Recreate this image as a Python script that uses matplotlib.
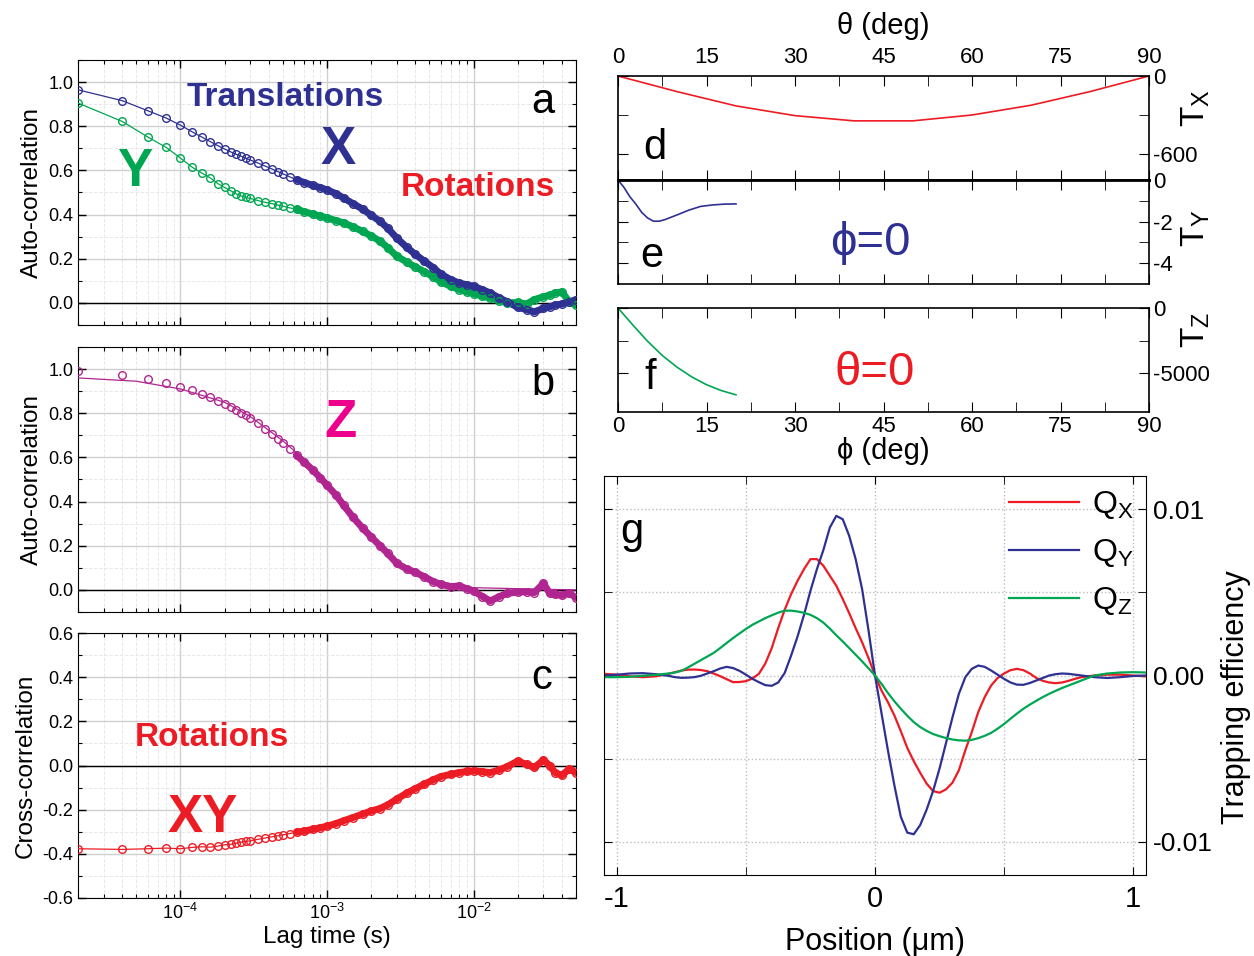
import numpy as np
import matplotlib
matplotlib.use('Agg')
import matplotlib.pyplot as plt
from matplotlib.ticker import FixedLocator, LogLocator, NullFormatter, FixedFormatter

plt.rcParams['font.family'] = ['Liberation Sans', 'DejaVu Sans']
plt.rcParams['mathtext.fontset'] = 'custom'
plt.rcParams['mathtext.rm'] = 'Liberation Sans'
plt.rcParams['axes.unicode_minus'] = False

NAVY = '#2E3192'
GREEN = '#00A651'
RED = '#ED1C24'
PURPLE = '#B0258F'
MAGENTA = '#EC008C'

# ---- panels a-c: correlation vs lag time ----
lag = [2e-5, 4e-5, 6e-5, 8e-5, 1.0e-4, 1.2e-4, 1.4e-4, 1.6e-4, 1.8e-4, 2.0e-4,
       2.2e-4, 2.4e-4, 2.6e-4, 2.8e-4, 3.0e-4, 3.4e-4, 3.8e-4, 4.2e-4, 4.6e-4, 5.0e-4,
       5.6e-4, 6.2e-4, 7.0e-4, 8.0e-4, 9.0e-4, 1.0e-3, 1.15e-3, 1.3e-3, 1.5e-3, 1.75e-3,
       2.0e-3, 2.3e-3, 2.6e-3, 3.0e-3, 3.5e-3, 4.0e-3, 4.6e-3, 5.3e-3, 6.0e-3, 7.0e-3,
       8.0e-3, 9.0e-3, 1.0e-2, 1.15e-2, 1.3e-2, 1.5e-2, 1.7e-2, 2.0e-2, 2.3e-2, 2.6e-2,
       3.0e-2, 3.3e-2, 3.6e-2, 4.0e-2, 4.5e-2, 5.0e-2]

acf_x = [0.965, 0.916, 0.870, 0.837, 0.805, 0.775, 0.751, 0.730, 0.712, 0.697,
         0.684, 0.673, 0.664, 0.655, 0.647, 0.633, 0.619, 0.607, 0.595, 0.585,
         0.570, 0.558, 0.545, 0.532, 0.522, 0.512, 0.495, 0.475, 0.450, 0.425,
         0.397, 0.370, 0.338, 0.293, 0.252, 0.220, 0.190, 0.160, 0.130, 0.105,
         0.090, 0.082, 0.075, 0.060, 0.045, 0.022, 0.005, -0.020, -0.030, -0.040,
         -0.025, -0.018, -0.010, -0.005, 0.005, 0.015]

acf_y = [0.905, 0.822, 0.751, 0.704, 0.656, 0.615, 0.588, 0.566, 0.540, 0.523,
         0.508, 0.494, 0.484, 0.478, 0.473, 0.463, 0.455, 0.450, 0.443, 0.438,
         0.430, 0.424, 0.413, 0.402, 0.393, 0.385, 0.373, 0.362, 0.345, 0.324,
         0.303, 0.280, 0.250, 0.211, 0.185, 0.163, 0.142, 0.118, 0.095, 0.075,
         0.060, 0.050, 0.042, 0.030, 0.022, 0.010, 0.000, 0.002, -0.005, 0.015,
         0.028, 0.035, 0.045, 0.050, 0.005, -0.010]

acf_z = [0.992, 0.973, 0.955, 0.937, 0.920, 0.905, 0.886, 0.875, 0.857, 0.842,
         0.828, 0.815, 0.802, 0.790, 0.780, 0.758, 0.730, 0.705, 0.685, 0.665,
         0.637, 0.610, 0.578, 0.543, 0.508, 0.474, 0.430, 0.383, 0.330, 0.280,
         0.240, 0.200, 0.165, 0.120, 0.095, 0.080, 0.060, 0.038, 0.025, 0.015,
         0.018, 0.005, -0.005, -0.030, -0.050, -0.030, -0.015, -0.010, -0.008, -0.012,
         0.030, -0.015, -0.020, -0.025, -0.015, -0.035]

fit_lag_z = [2e-5, 5e-5, 1e-4, 2e-4, 3e-4, 5e-4, 7e-4, 1e-3, 1.5e-3, 2e-3, 3e-3, 5e-3, 1e-2, 5e-2]
fit_z = [0.960, 0.945, 0.910, 0.850, 0.785, 0.675, 0.590, 0.478, 0.335, 0.235, 0.125, 0.045, 0.010, 0.0]

ccf_xy = [-0.377, -0.380, -0.377, -0.374, -0.377, -0.371, -0.368, -0.370, -0.365, -0.359,
          -0.357, -0.352, -0.347, -0.344, -0.341, -0.334, -0.328, -0.323, -0.318, -0.314,
          -0.308, -0.302, -0.297, -0.289, -0.282, -0.275, -0.263, -0.250, -0.236, -0.220,
          -0.206, -0.195, -0.178, -0.152, -0.125, -0.105, -0.085, -0.065, -0.050, -0.040,
          -0.032, -0.027, -0.024, -0.028, -0.032, -0.020, -0.005, 0.020, 0.005, -0.009,
          0.025, 0.000, -0.032, -0.045, -0.015, -0.032]

# ---- panels d-f: torques ----
theta_d = [0, 10, 20, 30, 40, 50, 60, 70, 80, 90]
torque_x = [0, -120, -230, -305, -345, -345, -300, -225, -120, 0]
phi_e = [0, 1, 2, 3, 4, 5, 6, 7, 8, 10, 12, 14, 16, 18, 20]
torque_y = [0, -0.35, -0.8, -1.15, -1.55, -1.82, -1.98, -1.98, -1.9, -1.68, -1.45, -1.27, -1.2, -1.16, -1.15]
phi_f = [0, 2.5, 5, 7.5, 10, 12.5, 15, 17.5, 20]
torque_z = [0, -1300, -2550, -3650, -4550, -5300, -5900, -6350, -6680]

# ---- panel g: trapping efficiency (units of 1e-3) ----
position = [-1.05, -1.0, -0.95, -0.9, -0.85,
            -0.8, -0.775, -0.75, -0.725, -0.7, -0.675, -0.65, -0.625, -0.6, -0.575,
            -0.55, -0.525, -0.5, -0.475, -0.45, -0.425, -0.4, -0.375, -0.35, -0.325,
            -0.3, -0.275, -0.25, -0.225, -0.2, -0.175, -0.15, -0.125, -0.1, -0.075,
            -0.05, -0.025, 0.0,
            0.025, 0.05, 0.075, 0.1, 0.125, 0.15, 0.175, 0.2, 0.225, 0.25,
            0.275, 0.3, 0.325, 0.35, 0.375, 0.4, 0.425, 0.45, 0.475, 0.5,
            0.525, 0.55, 0.575, 0.6, 0.625, 0.65, 0.675, 0.7, 0.725, 0.75,
            0.775, 0.8,
            0.85, 0.9, 0.95, 1.0, 1.05]
q_x = [0.1, 0.05, -0.05, -0.1, -0.05,
       0.1, 0.2, 0.3, 0.35, 0.36, 0.33, 0.26, 0.12, -0.04, -0.22,
       -0.4, -0.39, -0.34, -0.18, 0.1, 0.72, 1.65, 2.85, 3.95, 4.9,
       5.7, 6.4, 7.0, 7.0, 6.6, 6.0, 5.4, 4.6, 3.75, 2.85,
       2.0, 1.05, 0.0,
       -0.9, -1.6, -2.4, -3.35, -4.35, -5.15, -5.85, -6.5, -6.95, -7.05,
       -6.85, -6.45, -5.7, -4.5, -3.4, -2.2, -1.3, -0.6, -0.15, 0.12,
       0.32, 0.4, 0.32, 0.12, -0.15, -0.32, -0.42, -0.46, -0.42, -0.32,
       -0.2, -0.1,
       0.0, 0.05, 0.05, 0.0, -0.05]
q_y = [0.0, 0.05, 0.12, 0.14, 0.08,
       -0.02, -0.1, -0.14, -0.13, -0.1, -0.02, 0.12, 0.26, 0.42, 0.52,
       0.45, 0.28, 0.05, -0.2, -0.4, -0.58, -0.62, -0.42, 0.15, 1.2,
       2.35, 3.65, 5.1, 6.4, 7.55, 8.9, 9.6, 9.4, 8.4, 7.0,
       5.2, 2.7, 0.0,
       -2.25, -4.5, -6.6, -8.5, -9.45, -9.55, -9.0, -8.07, -6.95, -5.6,
       -4.07, -2.53, -1.1, -0.1, 0.4, 0.6, 0.52, 0.3, 0.05, -0.2,
       -0.42, -0.55, -0.56, -0.45, -0.3, -0.15, 0.0, 0.08, 0.12, 0.1,
       0.05, 0.0,
       -0.1, -0.15, -0.1, -0.03, 0.0]
q_z = [-0.1, -0.1, -0.08, -0.02, 0.04,
       0.12, 0.18, 0.28, 0.48, 0.7, 0.92, 1.14, 1.36, 1.65, 1.95,
       2.25, 2.53, 2.8, 3.05, 3.25, 3.45, 3.62, 3.78, 3.9, 3.9,
       3.85, 3.77, 3.65, 3.45, 3.18, 2.82, 2.42, 2.05, 1.65, 1.25,
       0.85, 0.43, 0.0,
       -0.5, -1.05, -1.55, -2.0, -2.42, -2.8, -3.1, -3.33, -3.52, -3.65,
       -3.76, -3.85, -3.9, -3.92, -3.87, -3.77, -3.63, -3.45, -3.2, -2.92,
       -2.6, -2.29, -2.0, -1.75, -1.52, -1.3, -1.1, -0.92, -0.75, -0.6,
       -0.45, -0.3,
       0.0, 0.12, 0.18, 0.2, 0.18]

W, H = 1254, 956


def px_rect(x0, y0, x1, y1):
    return [x0 / W, 1 - y1 / H, (x1 - x0) / W, (y1 - y0) / H]


fig = plt.figure(figsize=(W / 100, H / 100), dpi=100)


def ftext(x, y, s, **kw):
    kw.setdefault('ha', 'center')
    kw.setdefault('va', 'center')
    fig.text(x / W, 1 - y / H, s, **kw)


def corr_axes(rect, ylim, yticks, ylabel):
    ax = fig.add_axes(rect)
    ax.set_xscale('log')
    ax.set_xlim(2e-5, 5e-2)
    ax.set_ylim(*ylim)
    ax.yaxis.set_major_locator(FixedLocator(yticks))
    ax.yaxis.set_major_formatter(FixedFormatter(['%.1f' % v for v in yticks]))
    ax.yaxis.set_minor_locator(FixedLocator(np.round(np.arange(ylim[0], ylim[1] + 0.01, 0.1), 2)))
    ax.xaxis.set_major_locator(LogLocator(base=10, numticks=10))
    ax.xaxis.set_minor_locator(LogLocator(base=10, subs=np.arange(2, 10), numticks=20))
    ax.xaxis.set_minor_formatter(NullFormatter())
    ax.grid(True, which='major', color='#d0d0d0', lw=1)
    ax.grid(True, which='minor', color='#e8e8e8', lw=0.7, ls='--')
    ax.tick_params(which='both', direction='in', top=True, right=True, labelsize=13)
    ax.tick_params(which='major', length=6, width=1)
    ax.tick_params(which='minor', length=3, width=0.8)
    ax.axhline(0, color='black', lw=1, zorder=1.5)
    ax.set_ylabel(ylabel, fontsize=17.5, labelpad=4)
    ax.set_axisbelow(True)
    return ax


def draw_series(ax, values, color, fit=True):
    t = np.array(lag)
    v = np.array(values)
    if fit:
        ax.plot(t, v, '-', color=color, lw=0.9, zorder=3)
    dense = t >= 6e-4
    ax.plot(t[dense], v[dense], '-', color=color, lw=5, zorder=3, solid_capstyle='round')
    ax.plot(t, v, 'o', mfc='none', mec=color, ms=5.5, mew=1, zorder=4)


acf_ticks = [0.0, 0.2, 0.4, 0.6, 0.8, 1.0]
ax_a = corr_axes(px_rect(78, 60, 576, 325), (-0.1, 1.1), acf_ticks, 'Auto-correlation')
draw_series(ax_a, acf_y, GREEN)
draw_series(ax_a, acf_x, NAVY)
ax_a.tick_params(labelbottom=False)

ax_b = corr_axes(px_rect(78, 347, 576, 612), (-0.1, 1.1), acf_ticks, 'Auto-correlation')
ax_b.plot(fit_lag_z, fit_z, '-', color=PURPLE, lw=0.9, zorder=3)
draw_series(ax_b, acf_z, PURPLE, fit=False)
ax_b.tick_params(labelbottom=False)

ax_c = corr_axes(px_rect(78, 633, 576, 898), (-0.6, 0.6),
                 [-0.6, -0.4, -0.2, 0.0, 0.2, 0.4, 0.6], 'Cross-correlation')
draw_series(ax_c, ccf_xy, RED)
ax_c.set_xlabel('Lag time (s)', fontsize=17.5, labelpad=2)
ax_c.tick_params(axis='x', labelsize=13)

bold = dict(fontweight='bold')
ftext(285, 98, 'Translations', color=NAVY, fontsize=24, **bold)
ftext(338, 150, 'X', color=NAVY, fontsize=38, **bold)
ftext(135, 172, 'Y', color=GREEN, fontsize=38, **bold)
ftext(478, 187, 'Rotations', color=RED, fontsize=24, **bold)
ftext(340, 423, 'Z', color=MAGENTA, fontsize=38, **bold)
ftext(212, 737, 'Rotations', color=RED, fontsize=24, **bold)
ftext(203, 818, 'XY', color=RED, fontsize=38, **bold)
ftext(543, 102, 'a', fontsize=30)
ftext(543, 384, 'b', fontsize=30)
ftext(542, 678, 'c', fontsize=30)


# ---- panels d-f ----
def torque_axes(rect, ylim, major, labels, minor):
    ax = fig.add_axes(rect)
    ax.set_xlim(0, 90)
    ax.set_ylim(*ylim)
    ax.xaxis.set_major_locator(FixedLocator([0, 15, 30, 45, 60, 75, 90]))
    ax.xaxis.set_minor_locator(FixedLocator([7.5, 22.5, 37.5, 52.5, 67.5, 82.5]))
    ax.yaxis.set_major_locator(FixedLocator(major))
    ax.yaxis.set_major_formatter(FixedFormatter(labels))
    ax.yaxis.set_minor_locator(FixedLocator(minor))
    ax.tick_params(which='both', direction='in', top=True, bottom=True, left=True, right=True,
                   labelleft=False, labelright=True, labelbottom=False, labelsize=16, pad=3)
    ax.tick_params(which='both', length=7)
    for s in ax.spines.values():
        s.set_linewidth(1.2)
    return ax


ax_d = torque_axes(px_rect(618, 76, 1149, 180), (-800, 0), [0, -600], ['0', '-600'], [-300])
ax_d.plot(theta_d, torque_x, color=RED, lw=1.2)
ax_d.tick_params(axis='x', labeltop=True, pad=6)
ax_d.xaxis.set_label_position('top')
ax_d.set_xlabel('θ (deg)', fontsize=21, labelpad=9)
ax_d.spines['bottom'].set_linewidth(2)

ax_e = torque_axes(px_rect(618, 180, 1149, 284), (-5, 0), [0, -2, -4], ['0', '-2', '-4'], [-1, -3])
ax_e.plot(phi_e, torque_y, color=NAVY, lw=1.2)
ax_e.spines['top'].set_linewidth(2)

ax_f = torque_axes(px_rect(618, 308, 1149, 412), (-8000, 0), [0, -5000], ['0', '-5000'], [-2500])
ax_f.plot(phi_f, torque_z, color=GREEN, lw=1.2)
ax_f.tick_params(labelbottom=True)
ax_f.set_xlabel('ϕ (deg)', fontsize=21, labelpad=0)

ftext(655, 148, 'd', fontsize=30)
ftext(652, 256, 'e', fontsize=30)
ftext(650, 378, 'f', fontsize=30)
ftext(870, 243, 'ϕ=0', color=NAVY, fontsize=34)
ftext(875, 373, 'θ=0', color=RED, fontsize=34)
ftext(1196, 108, r'T$_\mathrm{X}$', fontsize=24, rotation=90)
ftext(1196, 228, r'T$_\mathrm{Y}$', fontsize=24, rotation=90)
ftext(1196, 330, r'T$_\mathrm{Z}$', fontsize=24, rotation=90)

# ---- panel g ----
ax_g = fig.add_axes(px_rect(604, 476, 1146, 875))
pos = np.array(position)
ax_g.plot(pos, np.array(q_x) * 1e-3, color=RED, lw=1.6, label=r'Q$_\mathrm{X}$')
ax_g.plot(pos, np.array(q_y) * 1e-3, color=NAVY, lw=1.6, label=r'Q$_\mathrm{Y}$')
ax_g.plot(pos, np.array(q_z) * 1e-3, color=GREEN, lw=1.6, label=r'Q$_\mathrm{Z}$')
ax_g.set_xlim(-1.05, 1.05)
ax_g.set_ylim(-0.012, 0.012)
ax_g.xaxis.set_major_locator(FixedLocator([-1, 0, 1]))
ax_g.xaxis.set_major_formatter(FixedFormatter(['-1', '0', '1']))
ax_g.xaxis.set_minor_locator(FixedLocator([-0.5, 0.5]))
ax_g.yaxis.set_major_locator(FixedLocator([-0.01, 0.0, 0.01]))
ax_g.yaxis.set_major_formatter(FixedFormatter(['-0.01', '0.00', '0.01']))
ax_g.yaxis.set_minor_locator(FixedLocator([-0.005, 0.005]))
ax_g.grid(True, which='both', color='#bdbdbd', ls=':', lw=1)
ax_g.tick_params(which='both', direction='in', top=True, right=True, length=6,
                 labelleft=False, labelright=True)
ax_g.tick_params(axis='y', labelsize=19, pad=5)
ax_g.tick_params(axis='x', labelsize=21, pad=7)
ax_g.set_xlabel('Position (μm)', fontsize=22, labelpad=10)
ax_g.legend(loc='upper right', frameon=False, fontsize=23, handlelength=2.2,
            labelspacing=0.5, borderaxespad=0.0, handletextpad=0.4)
ftext(632, 532, 'g', fontsize=30)
ftext(1236, 697, 'Trapping efficiency', fontsize=22, rotation=90)

fig.savefig('out.png', dpi=100)
